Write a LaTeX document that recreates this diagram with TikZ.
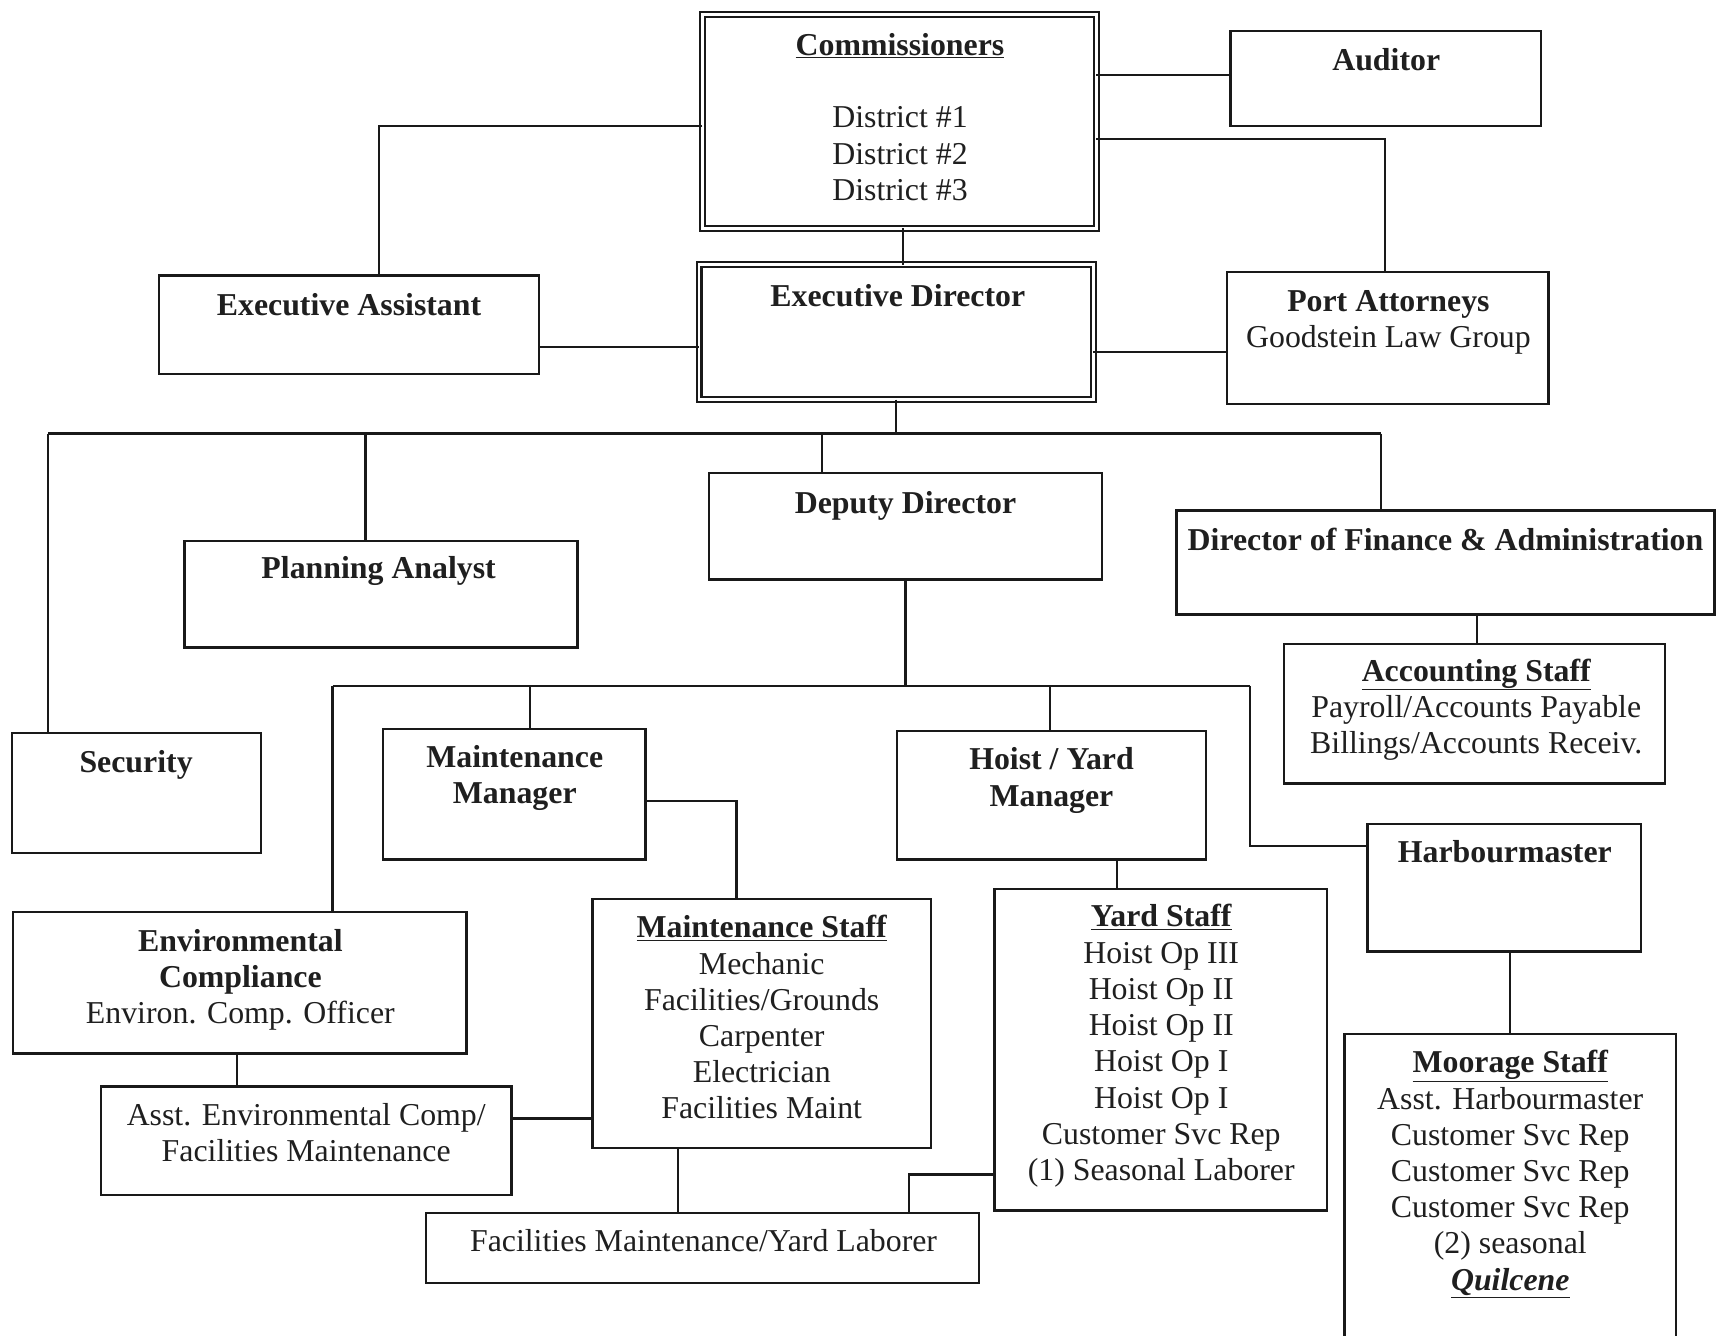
\documentclass[tikz,border=0pt]{standalone}
\usepackage{fontspec}
\setmainfont{Liberation Serif}
\newcommand\fsz{\fontsize{29pt}{33pt}\selectfont}
\newcommand\mystr{\rule{0pt}{23pt}}
\newcommand\bx[6][box]{\node[#1, minimum width={(#5-#3)*1pt}, minimum height={(#6-#4)*1pt}] (#2) at ({(#3+#5)/2},{(#4+#6)/2}) {};}
\tikzset{
  box/.style={draw=black!90, line width=2.2pt, inner sep=0pt, outer sep=0pt, rectangle},
  dbox/.style={draw=black!90, line width=2pt, double=white, double distance=2.4pt, inner sep=0pt, outer sep=0pt, rectangle},
  txt/.style={anchor=north, inner sep=0pt, outer sep=0pt, align=center, font=\fsz, text=black!88},
  conn/.style={draw=black!90, line width=2pt}
}
\begin{document}
\begin{tikzpicture}[x=1pt,y=-1pt]
\fill[white] (0,0) rectangle (1568,1217);
\useasboundingbox (0,0) rectangle (1568,1217);

% boxes
\bx[dbox]{comm}{640}{13}{999}{208}
\bx[dbox]{ed}{637}{241}{996}{364}
\bx{aud}{1121}{28}{1404}{115}
\bx{ea}{145}{251}{491}{341}
\bx{pa}{1118}{248}{1411}{368}
\bx{dd}{646}{431}{1004}{528}
\bx{plan}{168}{493}{526}{590}
\bx{dfa}{1072}{465}{1562}{560}
\bx{acc}{1170}{587}{1517}{714}
\bx{sec}{11}{668}{238}{777}
\bx{mm}{349}{664}{588}{783}
\bx{hm}{817}{666}{1099}{783}
\bx{hb}{1246}{751}{1495}{867}
\bx{env}{12}{831}{425}{960}
\bx{ms}{540}{819}{848}{1046}
\bx{ys}{906}{810}{1209}{1103}
\bx{moor}{1225}{942}{1527}{1224}
\bx{ae}{92}{990}{466}{1089}
\bx{fl}{388}{1105}{892}{1169}

% texts
\node[txt] (commT) at (820,27.5) {\mystr\textbf{\underline{Commissioners}}\\ \\District \#1\\District \#2\\District \#3};
\node[txt] (edT) at (818,256.5) {\mystr\textbf{Executive Director}};
\node[txt] (eaT) at (318,264.5) {\mystr\textbf{Executive Assistant}};
\node[txt] (audT) at (1263,41) {\mystr\textbf{Auditor}};
\node[txt] (paT) at (1265,261) {\mystr\textbf{Port Attorneys}\\Goodstein Law Group};
\node[txt] (ddT) at (825,444.5) {\mystr\textbf{Deputy Director}};
\node[txt] (planT) at (345,504.5) {\mystr\textbf{Planning Analyst}};
\node[txt] (dfaT) at (1317,478.5) {\mystr\textbf{Director of Finance \& Administration}};
\node[txt] (accT) at (1345,597.5) {\mystr\textbf{\underline{Accounting Staff}}\\Payroll/Accounts Payable\\Billings/Accounts Receiv.};
\node[txt] (secT) at (124,680.5) {\mystr\textbf{Security}};
\node[txt] (mmT) at (469,676.5) {\mystr\textbf{Maintenance}\\\textbf{Manager}};
\node[txt] (hmT) at (958,678.5) {\mystr\textbf{Hoist / Yard}\\\textbf{Manager}};
\node[txt] (hbT) at (1371,762.5) {\mystr\textbf{Harbourmaster}};
\node[txt] (envT) at (219,843.5) {\mystr\textbf{Environmental}\\\textbf{Compliance}\\Environ. Comp. Officer};
\node[txt] (msT) at (694,831.5) {\mystr\textbf{\underline{Maintenance Staff}}\\Mechanic\\Facilities/Grounds\\Carpenter\\Electrician\\Facilities Maint};
\node[txt] (ysT) at (1058,821.5) {\mystr\textbf{\underline{Yard Staff}}\\Hoist Op III\\Hoist Op II\\Hoist Op II\\Hoist Op I\\Hoist Op I\\Customer Svc Rep\\(1) Seasonal Laborer};
\node[txt] (moT) at (1376,954.5) {\mystr\textbf{\underline{Moorage Staff}}\\Asst. Harbourmaster\\Customer Svc Rep\\Customer Svc Rep\\Customer Svc Rep\\(2) seasonal\\\textbf{\textit{\underline{Quilcene}}}};
\node[txt] (aeT) at (279,1002.5) {\mystr Asst. Environmental Comp/\\Facilities Maintenance};
\node[txt] (flT) at (641,1117.5) {\mystr Facilities Maintenance/Yard Laborer};

% junction coordinates
\coordinate (j1) at (345,115);
\coordinate (j2) at (1262,127);
\coordinate (b0) at (816,395);
\coordinate (bL) at (44,395);
\coordinate (bR) at (1258,395);
\coordinate (bP) at (333,395);
\coordinate (bD) at (749,395);
\coordinate (c0) at (825,625);
\coordinate (cL) at (303,625);
\coordinate (cR) at (1139,625);
\coordinate (cM) at (483,625);
\coordinate (cH) at (957,625);
\coordinate (cHb) at (1139,771);
\coordinate (m1) at (671,730);
\coordinate (y1) at (828,1070);

% connectors
\draw[conn] (comm.west |- j1) -- (j1) -- (j1 |- ea.north);
\draw[conn] (comm.east |- 0,68) -- (aud.west |- 0,68);
\draw[conn] (comm.east |- j2) -- (j2) -- (j2 |- pa.north);
\draw[conn] (823,0 |- comm.south) -- (823,0 |- ed.north);
\draw[conn] (ea.east |- 0,316) -- (ed.west |- 0,316);
\draw[conn] (ed.east |- 0,321) -- (pa.west |- 0,321);
\draw[conn] (b0 |- ed.south) -- (b0);
\draw[conn] (bL) -- (bR);
\draw[conn] (bL) -- (bL |- sec.north);
\draw[conn] (bP) -- (bP |- plan.north);
\draw[conn] (bD) -- (bD |- dd.north);
\draw[conn] (bR) -- (bR |- dfa.north);
\draw[conn] (c0 |- dd.south) -- (c0);
\draw[conn] (cL) -- (cR);
\draw[conn] (cL) -- (cL |- env.north);
\draw[conn] (cM) -- (cM |- mm.north);
\draw[conn] (cH) -- (cH |- hm.north);
\draw[conn] (cR) -- (cHb) -- (hb.west |- cHb);
\draw[conn] (mm.east |- m1) -- (m1) -- (m1 |- ms.north);
\draw[conn] (1018,0 |- hm.south) -- (1018,0 |- ys.north);
\draw[conn] (1346,0 |- dfa.south) -- (1346,0 |- acc.north);
\draw[conn] (1376,0 |- hb.south) -- (1376,0 |- moor.north);
\draw[conn] (216,0 |- env.south) -- (216,0 |- ae.north);
\draw[conn] (ae.east |- 0,1019) -- (ms.west |- 0,1019);
\draw[conn] (618,0 |- ms.south) -- (618,0 |- fl.north);
\draw[conn] (ys.west |- y1) -- (y1) -- (y1 |- fl.north);
\end{tikzpicture}
\end{document}
